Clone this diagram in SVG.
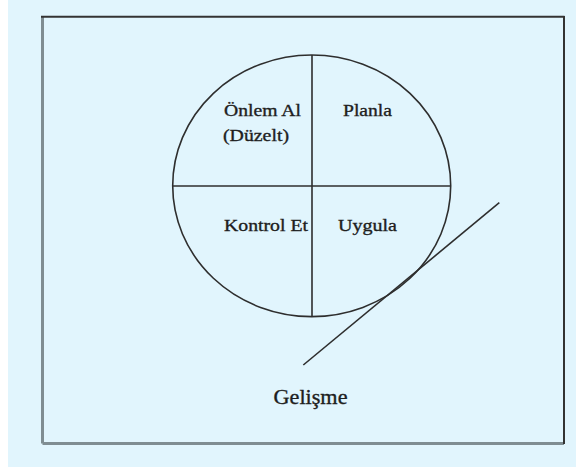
<svg xmlns="http://www.w3.org/2000/svg" width="576" height="469" viewBox="0 0 576 469">
<style>
.ln{stroke:#2e2e2e;stroke-width:1.6;fill:none}
.txt{font-family:"Liberation Serif","DejaVu Serif","Times New Roman",serif;fill:#1e1e1e;stroke:#1e1e1e;stroke-width:0.35}
.lbl{font-size:17px}
</style>
<rect x="0" y="0" width="576" height="469" fill="#ffffff"/>
<rect x="8" y="0" width="568" height="467" fill="#e1f5fd"/>
<g id="frame">
<line x1="42.5" y1="16.5" x2="42.5" y2="443.5" stroke="#7f8d92" stroke-width="3"/>
<line x1="42.5" y1="443.5" x2="564" y2="443.5" stroke="#7f8d92" stroke-width="3"/>
<line x1="41" y1="16.8" x2="564.5" y2="16.8" stroke="#333" stroke-width="2"/>
<line x1="564" y1="16" x2="564" y2="444" stroke="#333" stroke-width="2"/>
</g>
<g id="cycle">
<ellipse class="ln" cx="311.7" cy="185.8" rx="139" ry="130.8"/>
<line class="ln" x1="312" y1="55" x2="312" y2="316.6"/>
<line class="ln" x1="172.7" y1="186" x2="450.7" y2="186"/>
</g>
<g id="q-onlem"><text class="txt lbl" x="224" y="116" textLength="77" lengthAdjust="spacingAndGlyphs">Önlem Al</text><text class="txt lbl" x="223" y="140.5" textLength="66" lengthAdjust="spacingAndGlyphs">(Düzelt)</text></g>
<g id="q-planla"><text class="txt lbl" x="343" y="116" textLength="49" lengthAdjust="spacingAndGlyphs">Planla</text></g>
<g id="q-kontrol"><text class="txt lbl" x="224" y="230.5" textLength="84" lengthAdjust="spacingAndGlyphs">Kontrol Et</text></g>
<g id="q-uygula"><text class="txt lbl" x="338" y="230.5" textLength="59" lengthAdjust="spacingAndGlyphs">Uygula</text></g>
<g id="connectors"><line class="ln" x1="303.3" y1="365" x2="499.3" y2="202.7"/></g>
<g id="gelisme"><text class="txt" x="273.5" y="403.5" font-size="21.5" textLength="74" lengthAdjust="spacingAndGlyphs">Gelişme</text></g>
</svg>
